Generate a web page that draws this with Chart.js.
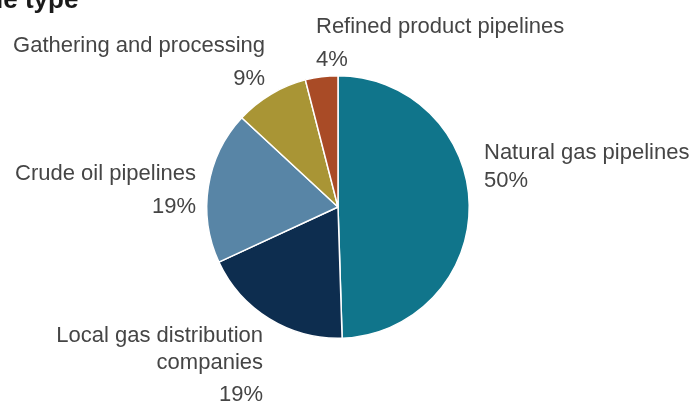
<!DOCTYPE html>
<html>
<head>
<meta charset="utf-8">
<script src="https://cdn.jsdelivr.net/npm/chart.js@4"></script>
<style>
  html, body { margin: 0; padding: 0; background: #fff; }
  #wrap { width: 692px; height: 402px; position: relative; }
</style>
</head>
<body>
<div id="wrap"><canvas id="myChart"></canvas></div>
<script>
const categories = [
    "Natural gas pipelines",
    ["Local gas distribution", "companies"],
    "Crude oil pipelines",
    "Gathering and processing",
    "Refined product pipelines",
];
const shares = [49.5, 18.6, 18.8, 9.1, 4.0];
const colors = ["#10758b", "#0d2d4f", "#5885a6", "#a99535", "#a94b26"];

// where each label sits, relative to the pie centre
const labelSpots = [
    { x: 146, y: -48, align: "left", gap: [28] },
    { x: -75, y: 135, align: "right", gap: [27, 32] },
    { x: -142, y: -27, align: "right", gap: [33] },
    { x: -73, y: -155, align: "right", gap: [33] },
    { x: -22, y: -174, align: "left", gap: [33] },
];

const sliceLabels = {
    id: "sliceLabels",
    afterDraw(chart) {
        const c = chart.ctx;
        const arc = chart.getDatasetMeta(0).data[0];
        const cx = arc.x, cy = arc.y;
        c.save();
        c.font = "22px 'Liberation Sans', Arial, sans-serif";
        c.fillStyle = "#454545";
        c.textBaseline = "alphabetic";
        chart.data.labels.forEach((lab, i) => {
            const spot = labelSpots[i];
            const lines = [].concat(lab, Math.round(shares[i]) + "%");
            c.textAlign = spot.align;
            let y = cy + spot.y;
            lines.forEach((t, k) => {
                c.fillText(t, cx + spot.x, y);
                y += spot.gap[k] || 0;
            });
        });
        // title, cut off at the top left like the source
        c.font = "bold 26px 'Liberation Sans', Arial, sans-serif";
        c.fillStyle = "#1a1a1a";
        c.textAlign = "left";
        c.fillText("le type", -4, 8);
        c.restore();
    },
};

const ctx = document.getElementById("myChart").getContext("2d");
new Chart(ctx, {
    type: "pie",
    data: {
        labels: categories,
        datasets: [{
            data: shares,
            backgroundColor: colors,
            borderColor: "#ffffff",
            borderWidth: 1.5,
        }],
    },
    options: {
        responsive: true,
        maintainAspectRatio: false,
        animation: false,
        layout: {
            padding: { top: 75, bottom: 63, left: 206, right: 222 },
        },
        plugins: {
            legend: { display: false },
            tooltip: { enabled: false },
        },
    },
    plugins: [sliceLabels],
});
</script>
</body>
</html>
